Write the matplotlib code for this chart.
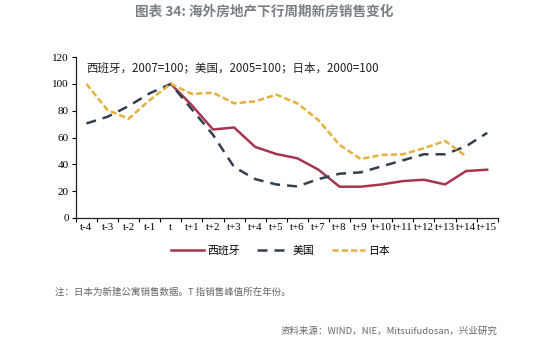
import matplotlib
matplotlib.use("Agg")
import matplotlib.pyplot as plt
import numpy as np

plt.rcParams['font.family'] = ['Noto Sans CJK SC', 'DejaVu Sans']

categories = ["t-4", "t-3", "t-2", "t-1", "t", "t+1", "t+2", "t+3", "t+4", "t+5",
              "t+6", "t+7", "t+8", "t+9", "t+10", "t+11", "t+12", "t+13", "t+14", "t+15"]
spain = [None, None, None, None, 100, 84, 66, 67.5, 53, 47.7,
         44.5, 36, 23.3, 23.3, 25, 27.5, 28.5, 25, 35, 36]
usa = [70.5, 75.5, 83.5, 93, 100, 81, 62, 38, 29, 25,
       23.5, 29, 33, 34, 38.5, 43, 47.5, 47.5, 53.5, 63.5]
japan = [100, 80.5, 74, 88, 100, 92.5, 93.5, 85.5, 87, 92,
         85.5, 73, 54.5, 44, 47, 47.5, 52, 57.5, 46, None]

def arr(v):
    return np.array([np.nan if x is None else x for x in v], dtype=float)

fig = plt.figure(figsize=(5.5, 3.4), dpi=100)
ax = fig.add_axes([0.138, 0.359, 0.767, 0.473])
x = np.arange(len(categories))

c_es = "#A8354F"
c_us = "#333F50"
c_jp = "#E6B03C"

ax.plot(x, arr(spain), color=c_es, lw=1.8, label="西班牙")
ax.plot(x, arr(usa), color=c_us, lw=1.8, ls=(0, (4, 2.8)), label="美国")
ax.plot(x, arr(japan), color=c_jp, lw=1.8, ls=(0, (2.5, 1.2)), label="日本")

ax.set_xlim(-0.5, len(categories) - 0.5)
ax.set_ylim(0, 120)
ax.set_yticks(np.arange(0, 121, 20))
ax.set_yticklabels([str(v) for v in range(0, 121, 20)], family="Liberation Serif", fontsize=8)
ax.set_xticks(x)
ax.set_xticklabels(categories, family="Liberation Serif", fontsize=7.8)
ax.set_xticks(np.arange(-0.5, len(categories), 1), minor=True)
ax.tick_params(axis='x', which='major', length=0, pad=4)
ax.tick_params(axis='x', which='minor', length=3, direction='out', width=0.8)
ax.tick_params(axis='y', length=3, direction='out', width=0.8, pad=2)
for s in ['top', 'right']:
    ax.spines[s].set_visible(False)
for s in ['left', 'bottom']:
    ax.spines[s].set_linewidth(0.9)
    ax.spines[s].set_color("#222222")

ax.text(0.025, 0.93, "西班牙，2007=100；美国，2005=100；日本，2000=100",
        transform=ax.transAxes, fontsize=8.3, va='center', ha='left', color="#222222")

leg = fig.legend(loc='center', bbox_to_anchor=(0.51, 0.262), ncol=3, frameon=False,
                 fontsize=7.8, handlelength=3.0, columnspacing=1.6, handletextpad=0.3)

fig.text(0.48, 0.965, "图表 34: 海外房地产下行周期新房销售变化", ha='center', va='center',
         fontsize=9.8, color="#7a7f86", fontweight='bold')
fig.text(0.1, 0.14, "注：日本为新建公寓销售数据。T 指销售峰值所在年份。", ha='left', va='center',
         fontsize=6.8, color="#666666")
fig.text(0.905, 0.026, "资料来源：WIND，NIE，Mitsuifudosan，兴业研究", ha='right', va='center',
         fontsize=6.8, color="#666666")

fig.savefig("out.png", dpi=100)
